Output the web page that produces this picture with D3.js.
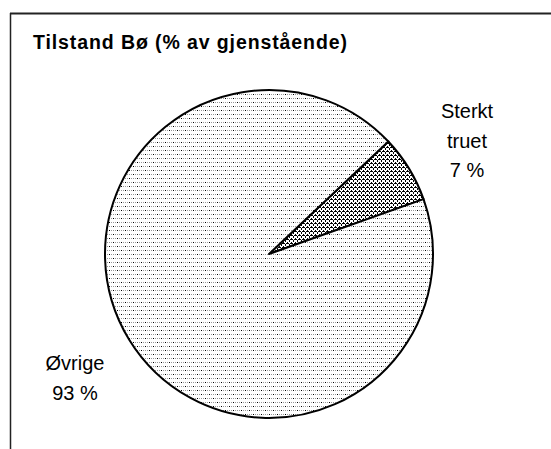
<!DOCTYPE html>
<html>
<head>
<meta charset="utf-8">
<script src="https://cdn.jsdelivr.net/npm/d3@7"></script>
<style>
  html, body { margin: 0; padding: 0; background: #fff; }
  svg { display: block; }
</style>
</head>
<body>
<div id="chart"></div>
<script>
// Chart data
const categories = ['Sterkt truet', 'Øvrige'];
const labelLines = [['Sterkt', 'truet'], ['Øvrige']];
const values = [6.6, 93.4];
const valueLabels = ['7 %', '93 %'];
const title = 'Tilstand Bø (% av gjenstående)';

const width = 551, height = 449;
const cx = 269, cy = 254, radius = 164;
const startDeg = 46.7;

const svg = d3.select('#chart')
  .append('svg')
  .attr('width', width)
  .attr('height', height);

// Fill patterns (Excel-style)
const defs = svg.append('defs');

const dots = defs.append('pattern')
  .attr('id', 'pat-dots')
  .attr('patternUnits', 'userSpaceOnUse')
  .attr('width', 8).attr('height', 8);
dots.append('rect').attr('width', 8).attr('height', 8).attr('fill', '#fff');
[[0, 0, '#000'], [2, 0, '#999'], [4, 0, '#999'], [6, 0, '#999'],
 [0, 4, '#999'], [2, 4, '#999'], [4, 4, '#000'], [6, 4, '#999']].forEach(([x, y, c]) => {
  dots.append('rect').attr('x', x).attr('y', y).attr('width', 1).attr('height', 1).attr('fill', c);
});

const zig = defs.append('pattern')
  .attr('id', 'pat-zig')
  .attr('patternUnits', 'userSpaceOnUse')
  .attr('width', 4).attr('height', 4);
zig.append('rect').attr('width', 4).attr('height', 4).attr('fill', '#fff');
[[0, 2], [0, 3], [1, 1], [2, 0], [2, 1], [3, 1]].forEach(([x, y]) => {
  zig.append('rect').attr('x', x).attr('y', y).attr('width', 1).attr('height', 1).attr('fill', '#000');
});

const fills = d3.scaleOrdinal()
  .domain(categories)
  .range(['url(#pat-zig)', 'url(#pat-dots)']);

// Frame (only top and left edges visible)
svg.append('line')
  .attr('x1', 10).attr('y1', 13.5).attr('x2', width).attr('y2', 13.5)
  .attr('stroke', '#222').attr('stroke-width', 2);
svg.append('line')
  .attr('x1', 10.5).attr('y1', 13).attr('x2', 10.5).attr('y2', height)
  .attr('stroke', '#222').attr('stroke-width', 1.5);

// Title
svg.append('text')
  .attr('x', 33)
  .attr('y', 49)
  .attr('font-family', 'Liberation Sans, Arial, sans-serif')
  .attr('font-size', 19.5)
  .attr('font-weight', 'bold')
  .attr('fill', '#000')
  .attr('textLength', 314)
  .attr('lengthAdjust', 'spacing')
  .text(title);

// Pie
const data = categories.map((c, i) => ({ category: c, value: values[i], lines: labelLines[i], label: valueLabels[i] }));
const start = startDeg * Math.PI / 180;
const pie = d3.pie()
  .sort(null)
  .value(d => d.value)
  .startAngle(start)
  .endAngle(start + 2 * Math.PI);
const arc = d3.arc().innerRadius(0).outerRadius(radius);

const g = svg.append('g').attr('transform', `translate(${cx},${cy})`);
g.selectAll('path')
  .data(pie(data))
  .join('path')
  .attr('d', arc)
  .attr('fill', d => fills(d.data.category))
  .attr('stroke', '#000')
  .attr('stroke-width', 2)
  .attr('stroke-linejoin', 'round');

// Labels
const labelPos = { 'Sterkt truet': [467, 118], 'Øvrige': [75, 370] };
const lineH = 29.5;
data.forEach(d => {
  const [lx, ly] = labelPos[d.category];
  const t = svg.append('text')
    .attr('text-anchor', 'middle')
    .attr('font-family', 'Liberation Sans, Arial, sans-serif')
    .attr('font-size', 20)
    .attr('fill', '#000');
  d.lines.concat([d.label]).forEach((s, i) => {
    t.append('tspan').attr('x', lx).attr('y', ly + i * lineH).text(s);
  });
});
</script>
</body>
</html>
